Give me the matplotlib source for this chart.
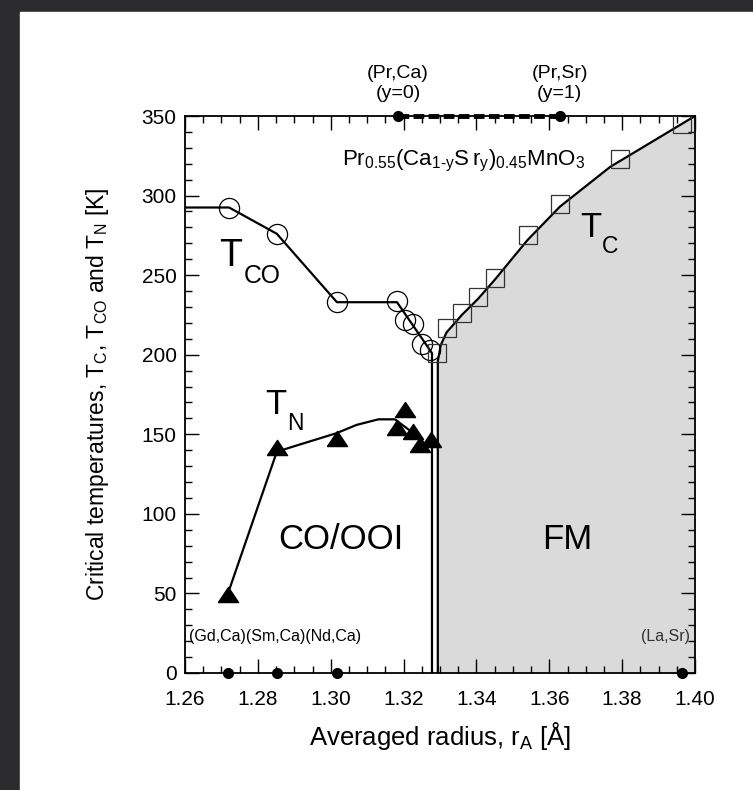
import numpy as np
import matplotlib
matplotlib.use("Agg")
import matplotlib.pyplot as plt
from matplotlib.patches import Rectangle
from matplotlib.ticker import MultipleLocator

plt.rcParams["font.family"] = ["Liberation Sans", "DejaVu Sans"]
plt.rcParams["mathtext.fontset"] = "custom"
plt.rcParams["mathtext.rm"] = "Liberation Sans"

# --- data ---
# charge-order temperature T_CO (open circles)
tco_r = [1.2721, 1.2852, 1.3017, 1.3182, 1.3204, 1.3226, 1.3251, 1.3273]
tco_t = [292, 276, 233, 234, 222, 219, 207, 203]
tco_line_r = [1.26, 1.2721, 1.2852, 1.3017, 1.3182, 1.3278, 1.3278]
tco_line_t = [292.5, 292.5, 276, 233, 233, 201, 0]

# Neel temperature T_N (filled triangles)
tn_r = [1.2718, 1.2852, 1.3017, 1.3182, 1.3204, 1.3226, 1.3245, 1.3275]
tn_t = [48, 140, 146, 153, 164, 150, 142, 145]
tn_line_r = [1.2718, 1.2852, 1.2897, 1.3016, 1.3071, 1.3131, 1.3176, 1.3227, 1.3245]
tn_line_t = [50, 139, 142.3, 150.7, 155.9, 159.4, 159.4, 150.7, 147.7]

# Curie temperature T_C (open squares)
tc_r = [1.3292, 1.3319, 1.3360, 1.3404, 1.3451, 1.3541, 1.3629, 1.3794, 1.3964]
tc_t = [201, 217, 226, 236, 248, 275, 295, 323, 345]
tc_line_r = [1.3294, 1.3294, 1.3302, 1.3318, 1.3360, 1.3404, 1.3450, 1.3540,
             1.3629, 1.3767, 1.4000]
tc_line_t = [0, 196, 206, 214, 225, 235, 247, 272, 293, 318, 350]

# compounds marked on the axes
bottom_r = [1.2718, 1.2853, 1.3017, 1.3964]
top_r = [1.3185, 1.3629]
top_labels = ["(Pr,Ca)\n(y=0)", "(Pr,Sr)\n(y=1)"]


def tlabel(ax, x, y, sub, size=25):
    ax.text(x, y, "T", fontsize=size, ha="left", va="baseline")
    ax.annotate(sub, (x, y), xytext=(size * 0.64, -size * 0.47),
                textcoords="offset points", fontsize=size * 0.66,
                ha="left", va="baseline")


fig = plt.figure(figsize=(7.53, 7.90), dpi=100, facecolor="#2c2c2f")
fig.add_artist(Rectangle((20 / 753, 0), 1 - 20 / 753, 1 - 12 / 790,
                         transform=fig.transFigure, color="white", zorder=-5))
ax = fig.add_axes([185 / 753, 1 - 673 / 790, 510 / 753, 557 / 790])

ax.fill_between(tc_line_r, 0, tc_line_t, color="#dadada", lw=0, zorder=0)
ax.plot(tc_line_r, tc_line_t, "k-", lw=1.6, zorder=2)
ax.plot(tco_line_r, tco_line_t, "k-", lw=1.6, zorder=2)
ax.plot(tn_line_r, tn_line_t, "k-", lw=1.6, zorder=2)

ax.plot(tco_r, tco_t, "o", ms=14.5, mfc="none", mec="k", mew=0.9, zorder=3)
ax.plot(tc_r, tc_t, "s", ms=13.5, mfc="none", mec="#333333", mew=0.9, zorder=3)
tri = [(-1, -0.5), (1, -0.5), (0, 1.0), (-1, -0.5)]
ax.plot(tn_r, tn_t, linestyle="none", marker=tri, ms=14.5, color="k", zorder=3)

# compounds on the bottom and top axes
ax.plot(bottom_r, [0] * len(bottom_r), "ko", ms=7, clip_on=False, zorder=5)
ax.plot(top_r, [350, 350], "k-", lw=3.5, dashes=(2.2, 0.9), clip_on=False,
        zorder=5)
ax.plot(top_r, [350, 350], "ko", ms=7, clip_on=False, zorder=5)
for r, lab in zip(top_r, top_labels):
    ax.text(r, 359, lab, ha="center", va="bottom", fontsize=14,
            linespacing=1.2)

ax.text(1.2611, 23, "(Gd,Ca)(Sm,Ca)(Nd,Ca)", fontsize=11.5, ha="left",
        va="center")
ax.text(1.3985, 23, "(La,Sr)", fontsize=11.5, ha="right", va="center",
        color="#333333")
ax.text(1.3030, 322,
        r"$\mathregular{Pr_{0.55}(Ca_{1\text{-}y}S\,r_y)_{0.45}MnO_3}$",
        fontsize=16, ha="left", va="center")

tlabel(ax, 1.2695, 256, "CO", size=27)
tlabel(ax, 1.2820, 163, "N")
tlabel(ax, 1.3684, 274, "C")
ax.text(1.3028, 84, "CO/OOI", fontsize=25, ha="center", va="center")
ax.text(1.3650, 84, "FM", fontsize=25, ha="center", va="center")

ax.set_xlim(1.26, 1.40)
ax.set_ylim(0, 350)
ax.xaxis.set_major_locator(MultipleLocator(0.02))
ax.xaxis.set_minor_locator(MultipleLocator(0.005))
ax.yaxis.set_major_locator(MultipleLocator(50))
ax.yaxis.set_minor_locator(MultipleLocator(10))
ax.xaxis.set_major_formatter(lambda v, p: f"{v:.2f}")
ax.tick_params(which="both", direction="in", top=True, right=True,
               width=1.0, labelsize=15)
ax.tick_params(which="major", length=10, pad=6)
ax.tick_params(which="minor", length=5)
ax.tick_params(axis="x", which="major", pad=12)
for s in ax.spines.values():
    s.set_linewidth(1.3)

ax.set_xlabel(r"Averaged radius, r$_\mathregular{A}$ [Å]", fontsize=18.5,
              labelpad=8)
ax.set_ylabel(r"Critical temperatures, T$_\mathregular{C}$, "
              r"T$_\mathregular{CO}$ and T$_\mathregular{N}$ [K]",
              fontsize=16.5, labelpad=22)

fig.savefig("out.png", dpi=100, facecolor=fig.get_facecolor())
